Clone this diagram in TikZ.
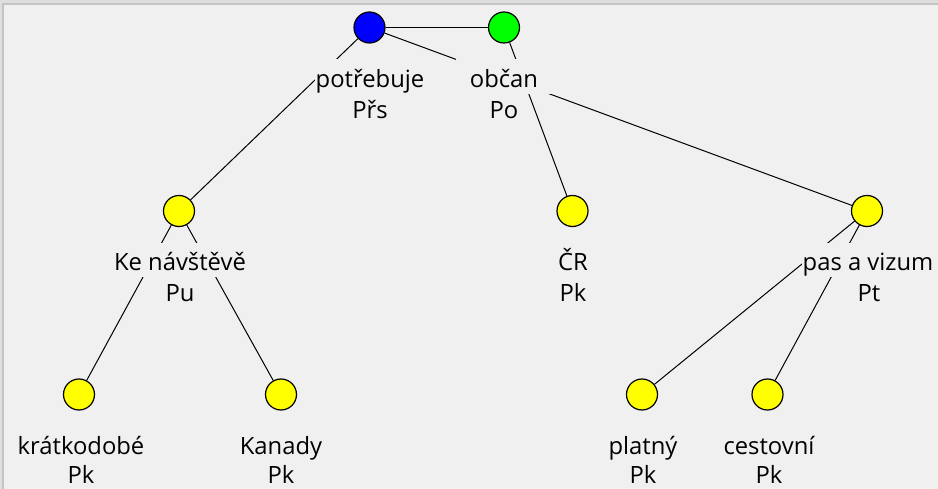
\documentclass[tikz,border=0pt]{standalone}
\usepackage{fontspec}
\setmainfont{Open Sans}
\definecolor{bg}{HTML}{F0F0F0}
\definecolor{frameA}{HTML}{DEDEDE}
\definecolor{frameB}{HTML}{C4C4C4}
\definecolor{nblue}{HTML}{0000FF}
\definecolor{ngreen}{HTML}{00FF00}
\definecolor{nyellow}{HTML}{FFFF00}
\begin{document}
\begin{tikzpicture}[x=1pt,y=-1pt,
  dot/.style={circle,draw=black,line width=1.2pt,minimum size=31pt,inner sep=0pt},
  edge/.style={draw=black,line width=1pt},
  lbl/.style={fill=bg,anchor=base,inner xsep=1pt,inner ysep=0pt,text height=28pt,text depth=6.5pt,font=\fontsize{23.8}{28}\selectfont},
  lowlbl/.style={lbl,text height=20pt,text depth=0pt}]
\fill[bg] (0,0) rectangle (938,489);
\useasboundingbox (0,0) rectangle (938,489);
\fill[frameA] (0,0) rectangle (938,3);
\fill[frameB] (0,3) rectangle (938,5);
\fill[frameA] (0,0) rectangle (2,489);
\fill[frameB] (2,3) rectangle (3.5,489);
% circles
\node[dot,fill=nblue]   (n1) at (369.5,27.5) {};
\node[dot,fill=ngreen]  (n2) at (504,27.5) {};
\node[dot,fill=nyellow] (n3) at (179,211) {};
\node[dot,fill=nyellow] (n4) at (572.5,211) {};
\node[dot,fill=nyellow] (n5) at (867,211) {};
\node[dot,fill=nyellow] (n6) at (79,394.5) {};
\node[dot,fill=nyellow] (n7) at (281,394.5) {};
\node[dot,fill=nyellow] (n8) at (642,394.5) {};
\node[dot,fill=nyellow] (n9) at (767.5,394.5) {};
% connectors
\draw[edge] (n1) -- (n2);
\draw[edge] (n1) -- (n3);
\draw[edge] (n1) -- (n5);
\draw[edge] (n2) -- (n4);
\draw[edge] (n3) -- (n6);
\draw[edge] (n3) -- (n7);
\draw[edge] (n5) -- (n8);
\draw[edge] (n5) -- (n9);
% labels
\node[lbl] (l1a) at (370,87.5) {potřebuje};
\node[lbl] (l1b) at (370,118.5) {Přs};
\node[lbl,minimum width=96pt] (l2a) at (504,87.5) {občan};
\node[lbl] (l2b) at (504,118.5) {Po};
\node[lbl] (l3a) at (180,271) {Ke návštěvě};
\node[lbl] (l3b) at (180,302) {Pu};
\node[lbl] (l4a) at (573,271) {ČR};
\node[lbl] (l4b) at (573,302) {Pk};
\node[lbl] (l5a) at (868,271) {pas a vizum};
\node[lbl] (l5b) at (869,302) {Pt};
\node[lbl] (l6a) at (81,454.5) {krátkodobé};
\node[lowlbl] (l6b) at (81,483) {Pk};
\node[lbl] (l7a) at (281,454.5) {Kanady};
\node[lowlbl] (l7b) at (281,483) {Pk};
\node[lbl] (l8a) at (643,454.5) {platný};
\node[lowlbl] (l8b) at (643,483) {Pk};
\node[lbl] (l9a) at (769,454.5) {cestovní};
\node[lowlbl] (l9b) at (769,483) {Pk};
\end{tikzpicture}
\end{document}
